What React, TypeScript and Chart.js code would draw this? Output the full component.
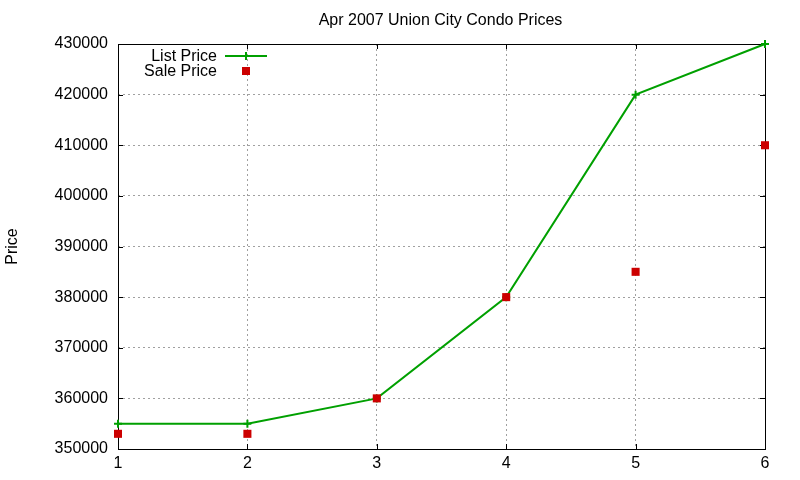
import { useEffect, useRef } from 'react';
import { Chart, ChartConfiguration, Plugin } from 'chart.js/auto';

const xValues = [1, 2, 3, 4, 5, 6];
const listPrices = [355000, 355000, 360000, 380000, 420000, 430000];
const salePrices = [353000, 353000, 360000, 380000, 385000, 410000];
const seriesNames = ['List Price', 'Sale Price'];
const chartTitle = 'Apr 2007 Union City Condo Prices';
const yTitle = 'Price';

const GREEN = '#00a000';
const RED = '#cc0000';
const FONT = '"Liberation Sans", Arial, sans-serif';

// gnuplot-like frame: box border plus short inward ticks on every side
const framePlugin: Plugin = {
  id: 'frame',
  beforeDatasetsDraw(chart) {
    const { ctx, chartArea: a, scales } = chart;
    ctx.save();
    ctx.strokeStyle = '#000';
    ctx.lineWidth = 1;
    ctx.beginPath();
    for (const t of scales.y.ticks) {
      const y = Math.round(scales.y.getPixelForValue(t.value)) + 0.5;
      ctx.moveTo(a.left, y);
      ctx.lineTo(a.left + 5, y);
      ctx.moveTo(a.right, y);
      ctx.lineTo(a.right - 5, y);
    }
    for (const t of scales.x.ticks) {
      const x = Math.round(scales.x.getPixelForValue(t.value)) + 0.5;
      ctx.moveTo(x, a.bottom);
      ctx.lineTo(x, a.bottom - 5);
      ctx.moveTo(x, a.top);
      ctx.lineTo(x, a.top + 5);
    }
    ctx.stroke();
    ctx.strokeRect(
      Math.round(a.left) + 0.5,
      Math.round(a.top) + 0.5,
      Math.round(a.right - a.left),
      Math.round(a.bottom - a.top)
    );
    ctx.restore();
  },
  afterDraw(chart) {
    const { ctx, chartArea: a } = chart;
    ctx.save();
    ctx.fillStyle = '#000';
    ctx.font = `16px ${FONT}`;
    ctx.textBaseline = 'middle';
    ctx.textAlign = 'center';
    ctx.fillText(chartTitle, (a.left + a.right) / 2 - 1, 21);

    // key, top left inside the plot
    ctx.textAlign = 'right';
    const keyX = a.left + 99;
    ctx.fillText(seriesNames[0], keyX, 57);
    ctx.fillText(seriesNames[1], keyX, 72);
    ctx.strokeStyle = GREEN;
    ctx.lineWidth = 2;
    ctx.beginPath();
    ctx.moveTo(keyX + 8, 56);
    ctx.lineTo(keyX + 50, 56);
    ctx.moveTo(keyX + 29, 52);
    ctx.lineTo(keyX + 29, 60);
    ctx.stroke();
    ctx.fillStyle = RED;
    ctx.fillRect(keyX + 25, 67, 8, 8);
    ctx.restore();
  },
};

export default function App() {
  const canvasRef = useRef<HTMLCanvasElement>(null);

  useEffect(() => {
    if (!canvasRef.current) return;

    const config: ChartConfiguration = {
      type: 'scatter',
      data: {
        datasets: [
          {
            label: seriesNames[0],
            data: xValues.map((x, i) => ({ x, y: listPrices[i] })),
            showLine: true,
            borderColor: GREEN,
            backgroundColor: GREEN,
            borderWidth: 2,
            pointStyle: 'cross',
            pointRadius: 4,
            pointBorderWidth: 2,
            clip: false,
            order: 1,
          },
          {
            label: seriesNames[1],
            data: xValues.map((x, i) => ({ x, y: salePrices[i] })),
            showLine: false,
            borderColor: RED,
            backgroundColor: RED,
            borderWidth: 0,
            pointStyle: 'rect',
            pointRadius: 5.7,
            pointBorderWidth: 0,
            clip: false,
            order: 0,
          },
        ],
      },
      options: {
        responsive: true,
        maintainAspectRatio: false,
        animation: false,
        events: [],
        layout: { padding: { top: 44, right: 35, left: 0, bottom: 0 } },
        plugins: {
          legend: { display: false },
          tooltip: { enabled: false },
          title: { display: false },
        },
        scales: {
          x: {
            type: 'linear',
            min: 1,
            max: 6,
            ticks: {
              stepSize: 1,
              color: '#000',
              padding: 5,
              font: { family: FONT, size: 16 },
              callback: (v) => String(v),
            },
            grid: { color: '#a0a0a0', drawTicks: false, lineWidth: 1 },
            border: { display: false, dash: [2, 3] },
            afterFit(scale) {
              scale.height = 31;
            },
          },
          y: {
            type: 'linear',
            min: 350000,
            max: 430000,
            ticks: {
              stepSize: 10000,
              color: '#000',
              padding: 10,
              font: { family: FONT, size: 16 },
              callback: (v) => String(v),
            },
            grid: { color: '#a0a0a0', drawTicks: false, lineWidth: 1 },
            border: { display: false, dash: [2, 3] },
            title: {
              display: true,
              text: yTitle,
              color: '#000',
              font: { family: FONT, size: 16 },
              padding: { top: 3, bottom: 0 },
            },
            afterFit(scale) {
              scale.width = 118;
            },
          },
        },
      },
      plugins: [framePlugin],
    };

    const chart = new Chart(canvasRef.current, config);
    return () => chart.destroy();
  }, []);

  return (
    <div style={{ position: 'fixed', left: 0, top: 0, width: 800, height: 480, background: '#fff' }}>
      <canvas ref={canvasRef} />
    </div>
  );
}
